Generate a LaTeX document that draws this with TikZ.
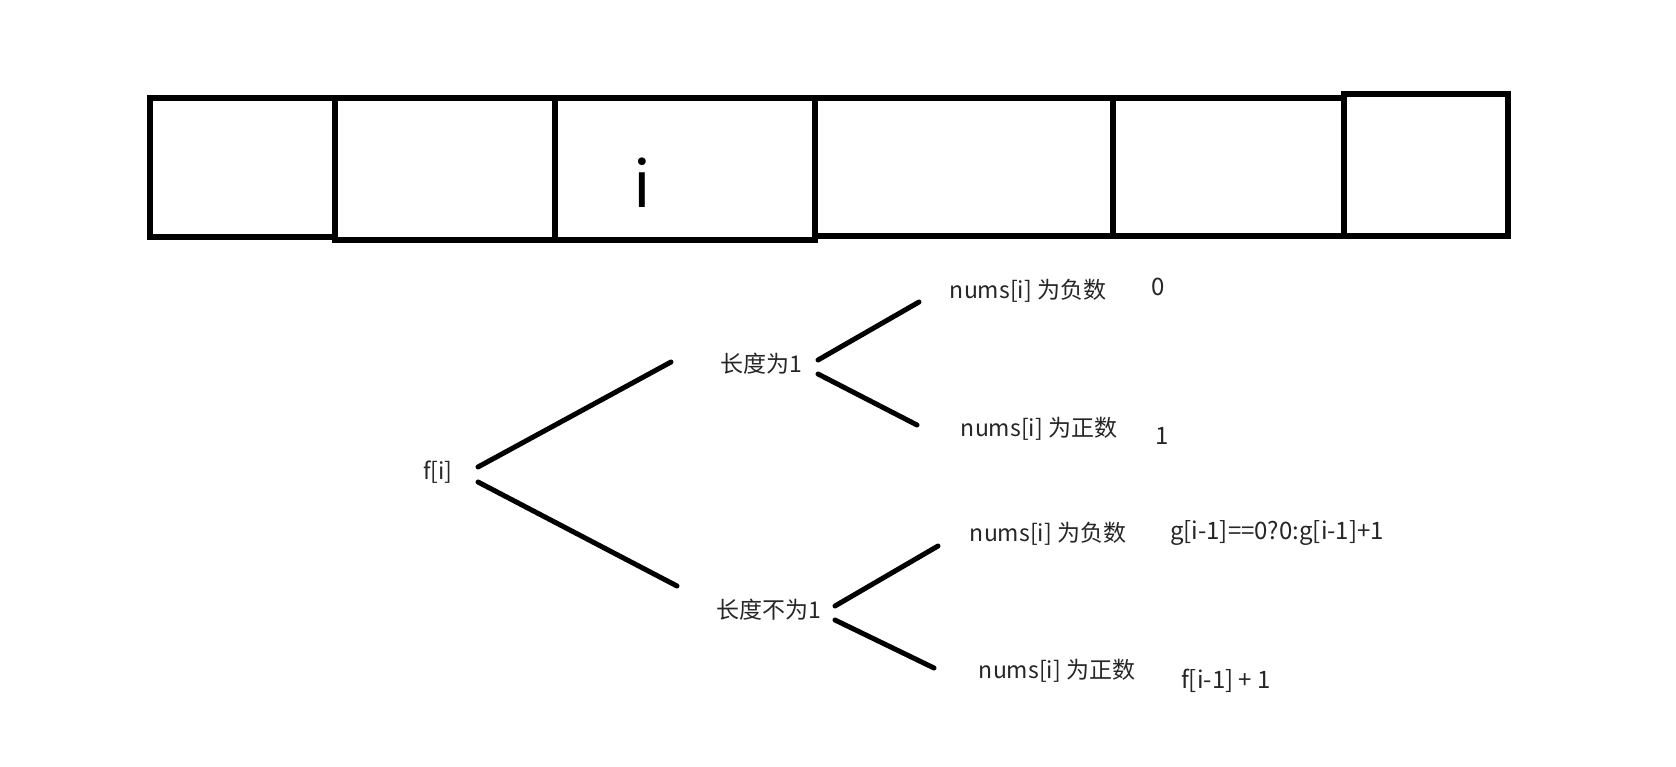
\documentclass[tikz,border=0pt]{standalone}
\usepackage{fontspec}
\newfontfamily\cjk{Noto Sans CJK SC}
\begin{document}
\begin{tikzpicture}[x=1pt,y=-1pt,
  cell/.style={line width=5.5pt},
  branch/.style={line width=5pt,line cap=round},
  lbl/.style={font=\cjk\fontsize{23}{27}\selectfont,inner sep=0pt,text=black!85},
  val/.style={font=\cjk\fontsize{24}{28}\selectfont,inner sep=0pt,text=black!85}]
\useasboundingbox[fill=white] (0,0) rectangle (1676,767);
% array cells
\draw[cell] (150,98) rectangle (335,237);
\draw[cell] (335,98) rectangle (555,240);
\draw[cell] (555,98) rectangle (815,240);
\draw[cell] (815,98) rectangle (1113,236);
\draw[cell] (1113,98) rectangle (1344,236);
\draw[cell] (1344,94) rectangle (1508,236);
\node[font=\cjk\fontsize{64}{70}\selectfont,inner sep=0pt] (idx) at (642,183) {i};
% tree nodes
\node[lbl] (fi) at (438,472) {f[i]};
\node[lbl] (l1) at (761,364) {长度为1};
\node[lbl] (l2) at (769,610) {长度不为1};
\node[lbl] (n1) at (1028,291) {nums[i] 为负数};
\node[lbl] (p1) at (1039,429) {nums[i] 为正数};
\node[lbl] (n2) at (1048,534) {nums[i] 为负数};
\node[lbl] (p2) at (1057,671) {nums[i] 为正数};
\node[val] (v1) at (1158,287) {0};
\node[val] (v2) at (1162,436) {1};
\node[val] (v3) at (1277,533) {g[i-1]==0?0:g[i-1]+1};
\node[val] (v4) at (1226,681) {f[i-1] + 1};
% connector end points
\coordinate (a1) at (478,467); \coordinate (b1) at (671,362);
\coordinate (a2) at (478,482); \coordinate (b2) at (677,586);
\coordinate (a3) at (818,360); \coordinate (b3) at (919,302);
\coordinate (a4) at (818,374); \coordinate (b4) at (917,425);
\coordinate (a5) at (835,606); \coordinate (b5) at (938,546);
\coordinate (a6) at (835,620); \coordinate (b6) at (934,668);
\draw[branch] (a1) -- (b1);
\draw[branch] (a2) -- (b2);
\draw[branch] (a3) -- (b3);
\draw[branch] (a4) -- (b4);
\draw[branch] (a5) -- (b5);
\draw[branch] (a6) -- (b6);
\end{tikzpicture}
\end{document}
